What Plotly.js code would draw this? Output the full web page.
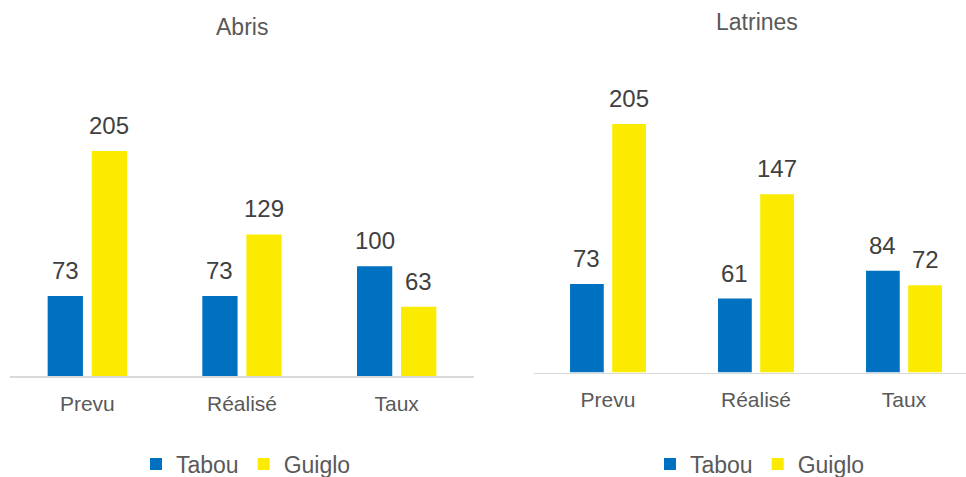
<!DOCTYPE html>
<html>
<head>
<meta charset="utf-8">
<script src="https://cdn.plot.ly/plotly-3.0.1.min.js"></script>
<style>
  html, body { margin: 0; padding: 0; background: #ffffff; }
  #chart { width: 966px; height: 477px; }
</style>
</head>
<body>
<div id="chart"></div>
<script>
// ---- Data ----
const categories = ["Prevu", "Réalisé", "Taux"];
const seriesNames = ["Tabou", "Guiglo"];
const abrisTabou = [73, 73, 100];
const abrisGuiglo = [205, 129, 63];
const latrinesTabou = [73, 61, 84];
const latrinesGuiglo = [205, 147, 72];
const chartTitles = ["Abris", "Latrines"];

// ---- Style ----
const W = 966, H = 477;
const BLUE = "#0070C0";
const YELLOW = "#FAEB00";
const FONT = "Liberation Sans, Arial, sans-serif";
const BARGAP = 0.43;
const BARGROUPGAP = 0.2;

const px = v => v / W;          // pixel -> paper x
const py = v => 1 - v / H;      // pixel -> paper y

// Left panel geometry (pixels)
const L = { x0: 10, x1: 474, base: 376, top: 100, range: [0, 251.5], xr: [-0.5, 2.5] };
// Right panel geometry (pixels)
const R = { x0: 534, x1: 966, base: 372.5, top: 100, range: [0, 224.8], xr: [-0.5, 2.419] };

function barTrace(name, y, color, xa, ya, legend, showlegend) {
  return {
    type: "bar", name: name, x: categories, y: y,
    xaxis: xa, yaxis: ya, legend: legend, showlegend: showlegend,
    marker: { color: color, line: { width: 0 } },
    hoverinfo: "x+y+name"
  };
}

const data = [
  barTrace(seriesNames[0], abrisTabou, BLUE, "x", "y", "legend", true),
  barTrace(seriesNames[1], abrisGuiglo, YELLOW, "x", "y", "legend", true),
  barTrace(seriesNames[0], latrinesTabou, BLUE, "x2", "y2", "legend2", true),
  barTrace(seriesNames[1], latrinesGuiglo, YELLOW, "x2", "y2", "legend2", true)
];

// Value labels above each bar
function labelAnns(panel, xref, yref, seriesList) {
  const catPx = (panel.x1 - panel.x0) / (panel.xr[1] - panel.xr[0]);
  const slot = catPx * (1 - BARGAP) / 2;
  const anns = [];
  seriesList.forEach((vals, si) => {
    vals.forEach((v, ci) => {
      anns.push({
        x: categories[ci], y: v, xref: xref, yref: yref,
        text: String(v), showarrow: false,
        xanchor: "center", yanchor: "bottom",
        xshift: (si === 0 ? -1 : 1) * slot / 2, yshift: 10,
        font: { family: FONT, size: 24, color: "#404040" }
      });
    });
  });
  return anns;
}

const annotations = [
  ...labelAnns(L, "x", "y", [abrisTabou, abrisGuiglo]),
  ...labelAnns(R, "x2", "y2", [latrinesTabou, latrinesGuiglo]),
  { text: chartTitles[0], x: px(242), y: py(27), xref: "paper", yref: "paper",
    showarrow: false, xanchor: "center", yanchor: "middle",
    font: { family: FONT, size: 23, color: "#595959" } },
  { text: chartTitles[1], x: px(757), y: py(22), xref: "paper", yref: "paper",
    showarrow: false, xanchor: "center", yanchor: "middle",
    font: { family: FONT, size: 23, color: "#595959" } }
];

function xAxis(panel, anchor) {
  return {
    domain: [px(panel.x0), px(panel.x1)], range: panel.xr, anchor: anchor,
    type: "category", showline: true, linecolor: "#D9D9D9", linewidth: 1.5,
    showgrid: false, zeroline: false, ticks: "", ticklabelstandoff: 8,
    tickfont: { family: FONT, size: 21, color: "#595959" }, fixedrange: true
  };
}
function yAxis(panel, anchor) {
  return {
    domain: [py(panel.base), py(panel.top)], range: panel.range, anchor: anchor,
    visible: false, showgrid: false, zeroline: false, fixedrange: true
  };
}

const legendCommon = {
  orientation: "h", xanchor: "center", yanchor: "middle",
  xref: "paper", yref: "paper",
  font: { family: FONT, size: 23, color: "#595959" },
  bgcolor: "rgba(0,0,0,0)", itemclick: false, itemdoubleclick: false
};

const layout = {
  width: W, height: H,
  margin: { l: 0, r: 0, t: 0, b: 0, pad: 0, autoexpand: false },
  paper_bgcolor: "#ffffff", plot_bgcolor: "#ffffff",
  barmode: "group", bargap: BARGAP, bargroupgap: BARGROUPGAP,
  font: { family: FONT, color: "#595959" },
  xaxis: xAxis(L, "y"), yaxis: yAxis(L, "x"),
  xaxis2: xAxis(R, "y2"), yaxis2: yAxis(R, "x2"),
  legend: Object.assign({}, legendCommon, { x: px(246), y: py(464) }),
  legend2: Object.assign({}, legendCommon, { x: px(760), y: py(464) }),
  annotations: annotations,
  showlegend: true
};

Plotly.newPlot("chart", data, layout, { displayModeBar: false, staticPlot: true });
</script>
</body>
</html>
